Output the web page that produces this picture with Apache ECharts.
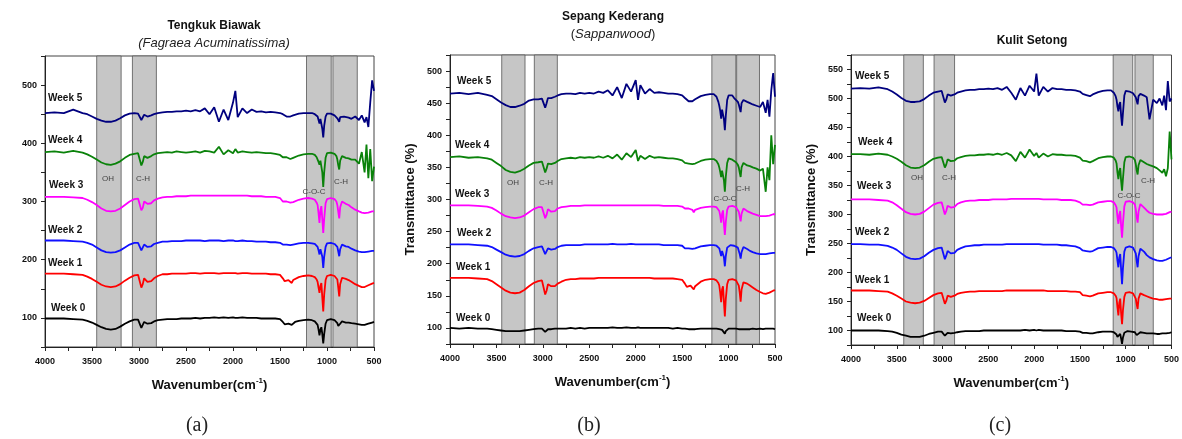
<!DOCTYPE html>
<html><head><meta charset="utf-8">
<script src="https://cdn.jsdelivr.net/npm/echarts/dist/echarts.min.js"></script>
<style>html,body{margin:0;padding:0;background:#fff}#c{width:1182px;height:439px}</style>
</head><body><div id="c"></div>
<script>
// shared wavenumber grid (cm-1)
const wavenumbers = [4000,3900,3800,3700,3600,3550,3500,
 3450,3400,3350,3300,3250,3200,3150,3100,3050,
 3010,2990,2975,2960,2945,2925,2910,2895,2870,2840,2800,
 2750,2700,2650,2600,2550,2500,2450,2400,2350,2300,2250,2200,2150,2100,2050,2000,1975,1950,1900,1850,1800,1750,1700,1650,1600,1550,
 1500,1470,1450,1430,1410,1390,1375,1360,1340,1300,1250,1200,
 1160,1130,1110,1100,1090,1080,1070,1060,1050,1040,1030,1015,1000,
 980,960,940,920,900,890,880,870,860,840,820,800,
 770,740,700,660,630,600,580,560,540,520,500];

const weekNames = ['Week 0','Week 1','Week 2','Week 3','Week 4','Week 5'];
const panelTitles = ['Tengkuk Biawak','Sepang Kederang','Kulit Setong'];
const captions = ['(a)','(b)','(c)'];
const xTickLabels = [4000,3500,3000,2500,2000,1500,1000,500];

// ---- Panel (a) Tengkuk Biawak ----
const a_w0 = [99,99,99,98,97,95,92, 88,84,81,80,81,85,90,94,97, 97,95,83,86,93,92,90,89,91,94,96,
 97,98,98,98,99,99,99,100,99,100,100,101,100,101,100,101,100,100,101,100,100,100,99,99,99,99,
 98,93,89,91,90,89,88,91,93,95,96,97, 96,94,91,88,80,70,80,84,72,56,72,90,96,
 98,98,97,96,94,91,86,83,90,94,93,92, 92,91,90,89,88,88,89,90,91,92,93];
const a_w1 = [176,176,176,175,174,171,167, 162,157,154,153,154,158,164,169,173, 174,171,152,158,168,165,162,161,163,168,172,
 175,175,176,176,176,176,177,177,176,177,177,177,176,177,177,177,177,176,177,177,176,176,176,176,175,175,
 174,168,163,166,165,164,160,165,167,170,172,173, 172,170,166,162,152,143,155,160,135,111,140,165,172,
 173,174,173,172,170,166,152,137,158,169,169,167, 165,162,158,155,153,153,154,156,158,159,160];
const a_w2 = [233,233,233,232,231,229,226, 221,216,213,212,213,216,221,226,229, 229,227,216,219,226,224,222,222,223,227,229,
 231,231,232,232,232,233,233,233,233,232,233,233,233,232,233,233,232,232,233,232,232,231,231,231,230,230,
 229,226,223,226,225,225,223,226,227,228,229,229, 228,227,224,222,216,209,218,221,205,186,205,222,228,
 229,229,228,227,225,222,214,206,218,226,225,223, 222,219,216,214,213,213,213,214,214,215,215];
const a_w3 = [308,308,308,307,306,303,299, 294,288,284,283,284,288,294,300,304, 305,302,285,289,300,298,296,295,297,302,305,
 307,308,308,309,309,309,310,310,310,310,310,310,310,310,310,310,310,310,310,310,309,309,309,308,308,308,
 306,300,297,300,299,298,295,299,301,303,305,306, 305,303,298,294,280,263,285,292,270,246,270,297,304,
 306,306,305,304,300,294,282,271,290,300,299,296, 294,290,286,283,281,280,280,281,282,283,283];
const a_w4 = [385,386,384,387,384,381,377, 372,367,364,363,365,369,375,380,382, 383,380,362,368,378,377,375,376,378,381,383,
 384,385,384,386,385,384,385,386,384,387,386,384,394,381,388,383,390,384,386,385,384,385,384,383,383,382,
 380,376,373,376,375,373,372,375,377,379,381,382, 382,380,376,372,368,363,370,372,350,325,350,375,383,
 385,384,383,382,378,372,362,355,370,378,376,375, 374,372,372,365,385,350,398,340,390,335,360];
const a_w5 = [452,453,452,458,452,450,446, 442,439,437,437,439,443,448,451,452, 451,449,440,443,449,448,446,446,448,450,452,
 453,454,454,455,455,456,455,457,455,460,450,462,437,458,440,470,490,445,460,452,458,454,455,453,454,453,
 452,450,447,446,447,446,447,448,450,451,452,452, 452,450,448,446,440,434,442,440,425,410,430,446,451,
 452,451,450,448,446,443,440,437,445,448,446,446, 444,442,446,440,448,436,445,428,470,508,490];

// ---- Panel (b) Sepang Kederang ----
const b_w0 = [100,99,100,99,99,98,97, 96,95,95,95,95,96,97,98,99, 99,98,94,96,98,98,98,98,99,99,99,
 99,100,99,100,99,100,100,100,100,100,101,100,100,101,100,100,101,100,100,100,100,100,100,100,99,100,
 99,99,98,98,98,98,97,98,99,99,99,99, 99,99,98,98,97,96,97,97,95,91,95,98,99,
 100,99,99,99,98,98,97,96,98,99,98,99, 98,99,98,99,98,99,98,99,98,99,98];
const b_w1 = [178,178,178,177,176,173,168, 163,158,155,154,155,159,165,170,173, 174,171,152,158,168,166,165,164,165,169,172,
 175,176,176,177,177,177,177,178,178,178,178,178,178,178,178,178,178,178,178,178,177,177,177,177,177,176,
 175,169,164,167,166,165,160,165,168,172,175,176, 176,174,170,166,155,140,160,165,140,118,145,168,175,
 176,176,175,174,171,166,155,141,160,171,170,169, 166,163,159,156,154,153,154,155,157,158,159];
const b_w2 = [230,230,230,229,228,226,222, 218,214,212,211,212,215,220,224,226, 227,225,215,218,224,223,222,222,223,226,228,
 229,229,229,229,230,230,230,230,230,230,231,230,230,230,231,230,230,230,230,230,230,230,229,229,229,229,
 228,224,222,224,223,223,222,224,226,227,228,229, 229,228,226,224,218,212,220,223,210,196,212,225,228,
 229,229,228,227,225,222,215,208,218,226,225,223, 220,218,216,215,215,215,215,216,216,217,217];
const b_w3 = [291,291,291,290,289,287,283, 278,274,272,271,272,275,280,285,288, 288,286,271,276,285,283,281,280,282,286,288,
 289,290,290,290,291,291,291,291,291,291,291,291,291,291,291,291,291,291,291,291,291,291,290,290,290,290,
 289,286,284,286,285,284,280,284,286,287,288,289, 289,288,285,282,275,264,278,283,262,245,265,284,289,
 290,290,289,288,285,281,273,266,278,286,284,282, 280,278,276,274,274,274,274,275,276,277,277];
const b_w4 = [366,367,365,366,364,362,357, 352,346,343,342,344,348,353,357,358, 359,357,342,348,356,356,355,355,357,360,363,
 364,365,364,366,365,366,365,367,365,368,364,370,362,372,366,377,360,368,363,368,365,366,365,364,364,363,
 361,357,354,356,355,355,354,356,358,360,362,363, 363,360,355,350,343,335,345,348,330,312,335,357,364,
 364,362,360,358,354,350,342,335,350,357,355,353, 352,350,348,345,348,312,350,330,400,355,385];
const b_w5 = [465,466,464,466,463,461,456, 451,447,444,444,446,449,454,456,456, 457,455,443,450,458,458,458,459,460,462,464,
 465,465,464,466,465,466,465,468,466,470,462,475,458,480,468,486,455,478,465,472,466,467,466,465,465,464,
 462,458,455,453,452,453,454,456,458,461,463,464, 464,460,452,446,438,426,440,442,425,408,430,455,462,
 464,462,458,456,452,448,442,436,450,455,453,452, 450,448,446,444,452,435,455,429,470,497,460];

// ---- Panel (c) Kulit Setong ----
const c_w0 = [100,100,100,100,99,98,96, 93,91,89,89,89,91,94,96,98, 98,97,91,93,96,96,95,95,96,97,98,
 99,99,99,99,100,100,100,100,100,100,100,100,100,101,100,101,100,101,100,100,100,100,100,99,99,99,
 98,96,95,96,96,95,94,95,96,97,98,98, 98,97,95,93,89,86,92,94,86,77,88,96,98,
 99,99,98,98,97,95,92,89,94,97,96,96, 95,95,95,94,94,95,95,95,96,96,97];
const c_w1 = [169,169,169,168,167,164,160, 155,150,148,147,148,151,156,161,164, 165,162,146,151,160,159,158,158,160,163,165,
 166,167,167,168,168,168,168,168,168,169,169,169,169,169,169,169,169,169,169,168,168,168,168,168,167,167,
 166,161,158,160,159,159,157,160,162,164,165,166, 166,164,160,156,140,126,148,155,130,111,135,158,165,
 166,166,165,164,161,155,145,137,155,164,163,161, 159,157,155,154,153,153,153,154,154,155,155];
const c_w2 = [249,249,248,248,246,243,239, 233,227,224,223,224,228,234,239,242, 243,240,223,229,237,235,233,232,234,239,242,
 245,246,247,247,248,248,248,248,248,249,249,249,249,249,249,249,249,249,248,248,248,248,247,247,246,245,
 242,238,235,237,236,236,234,237,240,242,243,244, 244,242,238,234,220,209,226,232,205,180,208,236,243,
 245,245,244,243,240,233,220,209,228,241,240,236, 230,226,223,221,220,220,221,222,224,225,226];
const c_w3 = [326,326,326,325,324,321,316, 310,304,301,300,301,305,311,317,320, 321,318,300,306,315,313,312,311,313,318,321,
 323,324,324,325,325,325,326,326,326,326,327,327,327,327,327,327,327,327,326,326,326,326,325,325,325,324,
 321,317,315,317,316,316,314,317,319,321,322,323, 323,321,316,312,296,284,300,306,280,260,285,314,322,
 323,323,322,321,317,309,296,286,305,318,316,312, 307,303,301,300,300,300,300,301,302,304,305];
const c_w4 = [404,404,403,405,403,400,396, 391,385,381,380,381,385,391,396,398, 399,396,381,386,395,394,392,391,393,397,399,
 401,402,402,403,403,404,403,405,403,406,402,392,408,398,412,401,406,398,405,400,404,403,403,402,402,401,
 398,393,390,392,391,390,389,392,394,397,399,400, 400,398,393,388,372,361,375,380,358,341,362,390,399,
 401,400,399,398,394,387,376,369,385,394,392,390, 387,385,383,380,376,372,378,366,380,443,395];
const c_w5 = [517,518,517,519,516,512,507, 501,496,494,494,495,499,505,510,512, 513,510,493,498,507,506,505,505,507,510,512,
 514,515,515,516,516,517,516,518,515,520,510,498,518,505,522,512,543,505,520,512,518,516,516,515,515,514,
 512,508,505,506,505,504,505,507,509,511,513,514, 514,510,504,498,486,478,490,494,470,453,475,505,513,
 514,512,510,509,506,502,496,490,504,508,506,505, 502,464,498,492,500,488,505,480,530,495,500];

// shaded absorption bands [from, to] in cm-1, with their labels
const bandsA = [[3450,3190],[3070,2815],[1218,955],[937,678]];
const bandsB = [[3443,3192],[3092,2844],[1180,922],[913,667]];
const bandsC = [[3424,3210],[3093,2869],[1137,923],[899,699]];
const bandLabels = ['OH','C-H','C-O-C','C-H'];

const seriesColors = ['#000000','#ff0000','#1010ff','#ff00ff','#0a820a','#00007f'];

const panels = [
  {data:[a_w0,a_w1,a_w2,a_w3,a_w4,a_w5], bands:bandsA,
   grid:{left:45,top:56,width:329,height:291}, y:{min:50,max:550,interval:50,lo:100,hi:500,step:100}, yName:''},
  {data:[b_w0,b_w1,b_w2,b_w3,b_w4,b_w5], bands:bandsB,
   grid:{left:450,top:55,width:325,height:289}, y:{min:75,max:525,interval:25,lo:100,hi:500,step:50}, yName:'Transmittance (%)'},
  {data:[c_w0,c_w1,c_w2,c_w3,c_w4,c_w5], bands:bandsC,
   grid:{left:851,top:55,width:328,height:290}, y:{min:75,max:575,interval:25,lo:100,hi:550,step:50}, yName:'Transmittance (%)'}
];
panels.forEach(p=>p.data.forEach(d=>{ if(d.length!==wavenumbers.length) console.error('length mismatch', d.length); }));

const FONT = 'Liberation Sans, Arial, sans-serif';
const grids=[], xAxes=[], yAxes=[], series=[];
panels.forEach((p,i)=>{
  grids.push(Object.assign({show:true, borderColor:'#444', borderWidth:1, backgroundColor:'transparent'}, p.grid));
  xAxes.push({type:'value', gridIndex:i, min:500, max:4000, interval:250, inverse:true,
    axisLine:{show:true,onZero:false,lineStyle:{color:'#222',width:1}},
    axisTick:{show:true,length:4,lineStyle:{color:'#222'}},
    axisLabel:{margin:10,fontSize:9,fontWeight:'bold',color:'#111',fontFamily:FONT,
      formatter:v=> xTickLabels.indexOf(v)>=0 ? String(v) : ''},
    splitLine:{show:false},
    name:'Wavenumber(cm{s|-1})', nameLocation:'middle', nameGap:30,
    nameTextStyle:{fontSize:13,fontWeight:'bold',color:'#111',fontFamily:FONT,
      rich:{s:{fontSize:8,fontWeight:'bold',color:'#111',fontFamily:FONT,padding:[0,0,9,0]}}}
  });
  yAxes.push({type:'value', gridIndex:i, min:p.y.min, max:p.y.max, interval:p.y.interval,
    axisLine:{show:true,onZero:false,lineStyle:{color:'#222',width:1}},
    axisTick:{show:true,length:4,lineStyle:{color:'#222'}},
    axisLabel:{margin:8,fontSize:9,fontWeight:'bold',color:'#111',fontFamily:FONT,
      formatter:v=> (v>=p.y.lo && v<=p.y.hi && v % p.y.step===0) ? String(v) : ''},
    splitLine:{show:false},
    name:p.yName, nameLocation:'middle', nameGap:33, nameRotate:90,
    nameTextStyle:{fontSize:13,fontWeight:'bold',color:'#111',fontFamily:FONT}
  });
  series.push({type:'line', xAxisIndex:i, yAxisIndex:i, data:[], z:1, silent:true,
    markArea:{silent:true, itemStyle:{color:'#c6c6c6', borderColor:'#555', borderWidth:0.8},
      data:p.bands.map(b=>[{xAxis:b[0]},{xAxis:b[1]}])}});
  p.data.forEach((vals,k)=>{
    series.push({type:'line', name:weekNames[k], xAxisIndex:i, yAxisIndex:i, z:3,
      showSymbol:false, symbol:'none', animation:false,
      lineStyle:{color:seriesColors[k], width:1.8}, itemStyle:{color:seriesColors[k]},
      data: wavenumbers.map((w,j)=>[w, vals[j]])});
  });
});

// annotation text positions (pixels)
const weekLabelPos = [
  [[51,308],[48,263],[48,230],[49,185],[48,140],[48,98]],
  [[456,318],[456,267],[457,233],[455,194],[455,145],[457,81]],
  [[857,318],[855,280],[855,232],[857,186],[858,142],[855,76]]
];
const bandLabelPos = [
  [[108,179],[143,179],[314,192],[341,182]],
  [[513,183],[546,183],[725,199],[743,189]],
  [[917,178],[949,178],[1129,196],[1148,181]]
];
const graphics = [];
weekLabelPos.forEach(list=>list.forEach((pos,k)=>{
  graphics.push({type:'text', x:pos[0], y:pos[1], z:10,
    style:{text:weekNames[k], fill:'#111', font:'bold 10px '+FONT, align:'left', verticalAlign:'middle'}});
}));
bandLabelPos.forEach(list=>list.forEach((pos,k)=>{
  graphics.push({type:'text', x:pos[0], y:pos[1], z:10,
    style:{text:bandLabels[k], fill:'#444', font:'8px '+FONT, align:'center', verticalAlign:'middle'}});
}));
// titles
graphics.push({type:'text', x:214, y:26, style:{text:panelTitles[0], fill:'#111', font:'bold 12px '+FONT, align:'center', verticalAlign:'middle'}});
graphics.push({type:'text', x:214, y:43, style:{text:'(Fagraea Acuminatissima)', fill:'#222', font:'italic 13px '+FONT, align:'center', verticalAlign:'middle'}});
graphics.push({type:'text', x:613, y:17, style:{text:panelTitles[1], fill:'#111', font:'bold 12px '+FONT, align:'center', verticalAlign:'middle'}});
graphics.push({type:'text', x:613, y:34, style:{text:'({i|Sappanwood})', fill:'#222', font:'13px '+FONT, align:'center', verticalAlign:'middle',
  rich:{i:{fontStyle:'italic', fontSize:13, fontFamily:FONT, fill:'#222'}}}});
graphics.push({type:'text', x:1032, y:41, style:{text:panelTitles[2], fill:'#111', font:'bold 12px '+FONT, align:'center', verticalAlign:'middle'}});
// captions
[[197,'(a)'],[589,'(b)'],[1000,'(c)']].forEach((c,i)=>{
  graphics.push({type:'text', x:c[0], y:426, style:{text:captions[i], fill:'#222', font:'20px Liberation Serif, Times New Roman, serif', align:'center', verticalAlign:'middle'}});
});

const chart = echarts.init(document.getElementById('c'), null, {renderer:'canvas'});
chart.setOption({
  animation:false,
  backgroundColor:'#ffffff',
  grid:grids, xAxis:xAxes, yAxis:yAxes, series:series,
  graphic:graphics
});
</script>
</body></html>
